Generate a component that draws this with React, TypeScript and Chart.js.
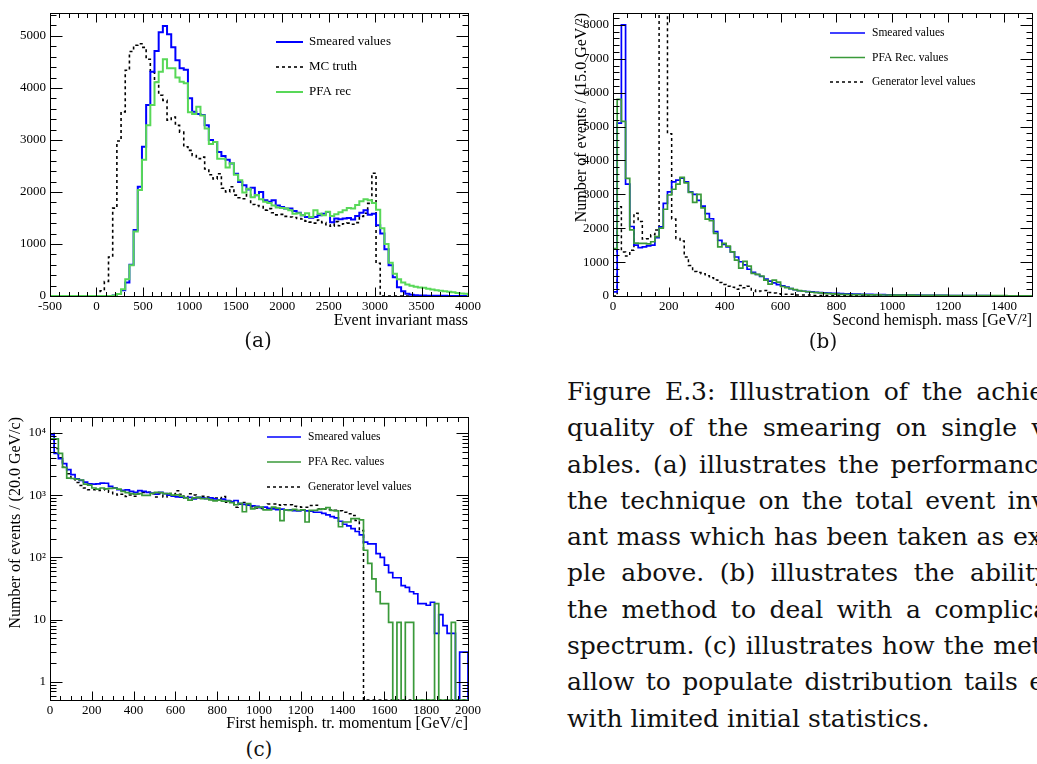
import React, { useEffect, useRef } from "react";
import { Chart, registerables } from "chart.js";

Chart.register(...registerables);

const ROOT_FONT = '"Liberation Serif", "Times New Roman", serif';
const TEX_FONT = '"DejaVu Serif", serif';

// ---------------- Panel (a): Event invariant mass (45-unit bins from -500) ----------------
const A_X_START = -500;
const A_BIN_WIDTH = 45;
const A_SMEARED = [
  0, 0, 0, 0, 0, 0, 0, 0, 0, 0,
  0, 0, 0, 0, 0, 10, 40, 110, 260, 600,
  1270, 2100, 2870, 3670, 4310, 4710, 5070, 5190, 5030, 4780,
  4530, 4380, 4350, 3800, 3540, 3500, 3480, 3280, 3000, 2960,
  2770, 2690, 2620, 2545, 2350, 2190, 2130, 2045, 2080, 1935,
  2000, 1840, 1810, 1840, 1740, 1710, 1680, 1680, 1635, 1600,
  1550, 1520, 1505, 1520, 1550, 1580, 1615, 1420, 1490, 1475,
  1490, 1500, 1470, 1540, 1600, 1650, 1560, 1580, 1360, 1200,
  900, 590, 360, 170, 90, 45, 25, 15, 10, 8,
  6, 5, 4, 3, 3, 2, 2, 1, 1, 1,
];
const A_MC_TRUTH = [
  0, 0, 0, 0, 0, 0, 0, 0, 0, 0,
  0, 0, 100, 280, 750, 1690, 2980, 3540, 4340, 4700,
  4820, 4850, 4780, 4550, 4300, 4110, 3860, 3760, 3380, 3440,
  3280, 3150, 2870, 2800, 2700, 2640, 2670, 2440, 2330, 2250,
  2350, 2070, 2000, 2100, 1940, 1890, 1870, 1950, 1760, 1740,
  1720, 1650, 1680, 1600, 1560, 1570, 1530, 1520, 1510, 1490,
  1480, 1440, 1420, 1400, 1460, 1410, 1370, 1340, 1430, 1350,
  1390, 1400, 1380, 1410, 1530, 1590, 1780, 2360, 630, 0,
  0, 0, 0, 0, 0, 0, 0, 0, 0, 0,
  0, 0, 0, 0, 0, 0, 0, 0, 0, 0,
];
const A_PFA_REC = [
  0, 0, 0, 0, 0, 0, 0, 0, 0, 0,
  0, 0, 0, 0, 0, 10, 40, 130, 320, 590,
  1240, 2040, 2620, 3280, 3670, 4110, 4310, 4550, 4380, 4380,
  4200, 4120, 4090, 3530, 3500, 3640, 3470, 3220, 2920, 2960,
  2640, 2640, 2470, 2550, 2330, 2225, 1990, 2060, 1900, 1940,
  1860, 1810, 1790, 1740, 1700, 1690, 1680, 1650, 1580, 1590,
  1550, 1590, 1520, 1650, 1580, 1550, 1620, 1540, 1570, 1610,
  1650, 1690, 1680, 1750, 1820, 1860, 1840, 1790, 1660, 1300,
  1000, 640, 430, 320, 260, 220, 195, 180, 165, 160,
  140, 125, 110, 100, 90, 80, 70, 60, 50, 45,
];
const A_X_TICKS = [-500, 0, 500, 1000, 1500, 2000, 2500, 3000, 3500, 4000];
const A_Y_TICKS = [0, 1000, 2000, 3000, 4000, 5000];

// ---------------- Panel (b): Second hemisphere mass (15 GeV bins) ----------------
const B_X_START = 0;
const B_BIN_WIDTH = 15;
const B_SMEARED = [
  120, 5100, 8000, 3300, 2050, 1500, 1430, 1450, 1480, 1500,
  1720, 2040, 2730, 3070, 3370, 3420, 3480, 3370, 3070, 3000,
  2820, 2650, 2430, 2280, 1900, 1640, 1520, 1450, 1300, 1150,
  1010, 920, 790, 700, 635, 575, 500, 440, 390, 335,
  300, 265, 220, 185, 155, 140, 130, 120, 110, 100,
  90, 85, 80, 75, 70, 65, 60, 58, 55, 50,
  48, 45, 42, 40, 38, 35, 32, 30, 30, 28,
  26, 25, 24, 22, 21, 20, 19, 18, 17, 16,
  15, 14, 13, 12, 12, 11, 10, 10, 9, 9,
  8, 8, 7, 7, 6, 6, 5, 5, 5, 4,
];
const B_PFA_REC = [
  1400, 5800, 5150, 3470, 1950, 1560, 1550, 1550, 1540, 1600,
  1750, 2000, 2560, 2980, 3150, 3300, 3500, 3340, 3060, 2760,
  3000, 2600, 2270, 2220, 1850, 1450, 1550, 1470, 1300, 1060,
  820, 1020, 880, 670, 640, 590, 470, 350, 470, 410,
  280, 250, 215, 190, 160, 140, 125, 110, 100, 90,
  80, 70, 65, 55, 50, 45, 42, 40, 40, 38,
  36, 35, 34, 32, 30, 30, 28, 27, 26, 25,
  24, 23, 22, 21, 20, 20, 19, 18, 17, 16,
  15, 15, 14, 13, 13, 12, 12, 11, 11, 10,
  10, 10, 9, 9, 8, 8, 8, 7, 7, 6,
];
const B_GENERATOR = [
  0, 2630, 1300, 1180, 1350, 2440, 2200, 1680, 1690, 1810,
  1950, 12000, 12000, 4790, 2270, 1700, 1620, 1150, 900, 720,
  690, 660, 600, 540, 470, 400, 340, 290, 260, 200,
  310, 240, 290, 180, 130, 150, 160, 100, 85, 70,
  50, 50, 50, 30, 30, 30, 30, 15, 15, 15,
  15, 12, 10, 10, 8, 8, 6, 5, 5, 4,
  4, 3, 3, 2, 2, 2, 0, 0, 0, 0,
  0, 0, 0, 0, 0, 0, 0, 0, 0, 0,
  0, 0, 0, 0, 0, 0, 0, 0, 0, 0,
  0, 0, 0, 0, 0, 0, 0, 0, 0, 0,
];
const B_X_TICKS = [0, 200, 400, 600, 800, 1000, 1200, 1400];
const B_Y_TICKS = [0, 1000, 2000, 3000, 4000, 5000, 6000, 7000, 8000];

// ---------------- Panel (c): First hemisphere transverse momentum (20 GeV bins, log y) ----------------
const C_X_START = 0;
const C_BIN_WIDTH = 20;
const C_SMEARED = [
  9400, 4700, 3850, 3200, 2560, 2130, 1820, 1720, 1620, 1520,
  1500, 1520, 1560, 1550, 1380, 1310, 1220, 1190, 1210, 1150,
  1110, 1180, 1150, 1110, 1080, 1040, 1110, 1060, 1000, 960,
  940, 930, 910, 920, 870, 920, 900, 880, 900, 870,
  830, 860, 820, 780, 820, 730, 710, 690, 670, 660,
  630, 640, 610, 600, 585, 595, 580, 580, 565, 560,
  575, 560, 550, 530, 530, 510, 480, 450, 430, 380,
  340, 320, 290, 260, 230, 175, 165, 165, 115, 100,
  75, 57, 47, 47, 35, 33, 28, 26, 18, 18,
  17, 19, 6, 12, 8, 6, 6, 0, 3, 3,
];
const C_PFA_REC = [
  8000, 8000, 4700, 2800, 1870, 1850, 1800, 1750, 1500, 1450,
  1300, 1250, 1300, 1260, 1280, 1300, 1250, 1150, 1100, 1060,
  1040, 1060, 990, 990, 1070, 1110, 1100, 1060, 1060, 1000,
  1010, 960, 900, 830, 900, 920, 880, 880, 840, 810,
  830, 800, 800, 760, 700, 740, 540, 730, 600, 640,
  640, 580, 580, 640, 620, 390, 580, 570, 590, 570,
  580, 370, 570, 570, 590, 600, 630, 570, 560, 310,
  370, 370, 420, 420, 400, 130, 80, 45, 28, 18,
  18, 9, 0, 9, 0, 9, 9, 0, 0, 0,
  0, 0, 18, 0, 0, 0, 9, 0, 0, 0,
];
const C_GENERATOR = [
  9800, 5600, 4000, 2800, 2200, 1800, 1600, 1430, 1300, 1220,
  1220, 1190, 1210, 1250, 1110, 1050, 1000, 1030, 950, 1000,
  960, 1050, 1100, 1110, 1050, 930, 1050, 930, 1060, 1030,
  1180, 1030, 900, 1050, 1000, 910, 960, 930, 850, 900,
  880, 950, 770, 800, 640, 720, 760, 700, 650, 620,
  610, 600, 720, 720, 700, 690, 700, 700, 660, 650,
  640, 640, 680, 690, 600, 600, 580, 580, 570, 560,
  530, 500, 470, 390, 270, 0, 0, 0, 0, 0,
  0, 0, 0, 0, 0, 0, 0, 0, 0, 0,
  0, 0, 0, 0, 0, 0, 0, 0, 0, 0,
];
const C_X_TICKS = [0, 200, 400, 600, 800, 1000, 1200, 1400, 1600, 1800, 2000];
const C_Y_TICKS = [1, 10, 100, 1000, 10000];
const C_Y_TICK_LABELS = ["1", "10", "10\u00B2", "10\u00B3", "10\u2074"];

// ---------------- Caption text ----------------
const CAPTION_LINES = [
  "Figure E.3: Illustration of the achieved",
  "quality of the smearing on single vari-",
  "ables. (a) illustrates the performance of",
  "the technique on the total event invari-",
  "ant mass which has been taken as exam-",
  "ple above. (b) illustrates the ability of",
  "the method to deal with a complicated",
  "spectrum. (c) illustrates how the method",
  "allow to populate distribution tails even",
  "with limited initial statistics.",
];

const BLUE = "#0000ff";
const GREEN_A = "#58d858";
const GREEN_BC = "#3a9a3a";

type Series = { label: string; values: number[]; color: string; width: number; dash: number[]; order: number };
type PanelSpec = {
  left: number; top: number; w: number; h: number;
  padding: { left: number; top: number; right: number; bottom: number };
  yAxisW: number; xAxisH: number;
  xStart: number; binWidth: number;
  xMin: number; xMax: number; yMin: number; yMax: number; logY: boolean;
  xTicks: number[]; yTicks: number[]; yTickLabels?: string[];
  xMajor: number; xMinor: number; yMajor: number; yMinor: number;
  series: Series[]; legendOrder: number[];
  legend: { x: number; y: number; lineLen: number; gap: number; rowH: number; size: number };
  xTitle: string; xTitleDy: number;
  yTitle?: string; yTitleX?: number;
};

const PANEL_A: PanelSpec = {
  left: 0, top: 0, w: 490, h: 335,
  padding: { left: 0, top: 13, right: 22, bottom: 0 },
  yAxisW: 50, xAxisH: 39,
  xStart: A_X_START, binWidth: A_BIN_WIDTH,
  xMin: -500, xMax: 4000, yMin: 0, yMax: 5440, logY: false,
  xTicks: A_X_TICKS, yTicks: A_Y_TICKS,
  xMajor: 500, xMinor: 100, yMajor: 1000, yMinor: 200,
  series: [
    { label: "Smeared values", values: A_SMEARED, color: BLUE, width: 2, dash: [], order: 2 },
    { label: "MC truth", values: A_MC_TRUTH, color: "#000000", width: 1.6, dash: [3, 3], order: 3 },
    { label: "PFA rec", values: A_PFA_REC, color: GREEN_A, width: 2, dash: [], order: 1 },
  ],
  legendOrder: [0, 1, 2],
  legend: { x: 226, y: 29, lineLen: 27, gap: 6, rowH: 25, size: 13 },
  xTitle: "Event invariant mass", xTitleDy: 29,
};

const PANEL_B: PanelSpec = {
  left: 540, top: 0, w: 497, h: 335,
  padding: { left: 0, top: 13, right: 5, bottom: 0 },
  yAxisW: 73, xAxisH: 39,
  xStart: B_X_START, binWidth: B_BIN_WIDTH,
  xMin: 0, xMax: 1500, yMin: 0, yMax: 8350, logY: false,
  xTicks: B_X_TICKS, yTicks: B_Y_TICKS,
  xMajor: 200, xMinor: 50, yMajor: 1000, yMinor: 200,
  series: [
    { label: "Smeared values", values: B_SMEARED, color: BLUE, width: 1.7, dash: [], order: 2 },
    { label: "PFA Rec. values", values: B_PFA_REC, color: GREEN_BC, width: 1.7, dash: [], order: 1 },
    { label: "Generator level values", values: B_GENERATOR, color: "#000000", width: 1.5, dash: [3, 3], order: 3 },
  ],
  legendOrder: [0, 1, 2],
  legend: { x: 217, y: 20, lineLen: 35, gap: 7, rowH: 24.5, size: 11.5 },
  xTitle: "Second hemisph. mass [GeV/\u00B2]", xTitleDy: 29,
  yTitle: "Number of events / (15.0 GeV/\u00B2)", yTitleX: 42,
};

const PANEL_C: PanelSpec = {
  left: 0, top: 380, w: 490, h: 355,
  padding: { left: 0, top: 37, right: 22, bottom: 0 },
  yAxisW: 50, xAxisH: 35,
  xStart: C_X_START, binWidth: C_BIN_WIDTH,
  xMin: 0, xMax: 2000, yMin: 0.51, yMax: 18000, logY: true,
  xTicks: C_X_TICKS, yTicks: C_Y_TICKS, yTickLabels: C_Y_TICK_LABELS,
  xMajor: 200, xMinor: 50, yMajor: 10, yMinor: 1,
  series: [
    { label: "Smeared values", values: C_SMEARED, color: BLUE, width: 1.7, dash: [], order: 2 },
    { label: "PFA Rec. values", values: C_PFA_REC, color: GREEN_BC, width: 1.7, dash: [], order: 1 },
    { label: "Generator level values", values: C_GENERATOR, color: "#000000", width: 1.5, dash: [3, 3], order: 3 },
  ],
  legendOrder: [0, 1, 2],
  legend: { x: 217, y: 20, lineLen: 34, gap: 7, rowH: 25, size: 11.5 },
  xTitle: "First hemisph. tr. momentum [GeV/c]", xTitleDy: 28,
  yTitle: "Number of events / (20.0 GeV/c)", yTitleX: 15.5,
};

// Histogram outline: points at the bin edges, stepped, closed down to the axis floor.
// On the log axis an empty bin sits on the axis floor (its minimum), as ROOT draws it.
function histPoints(xStart: number, bin: number, vals: number[], floor: number) {
  const f = (v: number) => (v <= 0 ? floor : v);
  const pts = [{ x: xStart, y: floor }];
  vals.forEach((v, i) => pts.push({ x: xStart + i * bin, y: f(v) }));
  const end = xStart + vals.length * bin;
  pts.push({ x: end, y: f(vals[vals.length - 1]) });
  pts.push({ x: end, y: floor });
  return pts;
}

const rootStylePlugin = {
  id: "rootStyle",
  afterDraw(chart: any, _args: any, opts: any) {
    const s: PanelSpec = opts.spec;
    if (!s) return;
    const { ctx, chartArea: a, scales } = chart;
    const xs = scales.x;
    const ys = scales.y;
    ctx.save();
    ctx.strokeStyle = "#000";
    ctx.lineWidth = 1;
    ctx.setLineDash([]);
    const L = Math.round(a.left) + 0.5, T = Math.round(a.top) + 0.5;
    const R = Math.round(a.right) + 0.5, B = Math.round(a.bottom) + 0.5;
    ctx.strokeRect(L, T, R - L, B - T);
    ctx.beginPath();
    const nx = Math.round((s.xMax - s.xMin) / s.xMinor);
    for (let k = 0; k <= nx; k++) {
      const v = s.xMin + k * s.xMinor;
      const r = (v - s.xMin) / s.xMajor;
      const major = Math.abs(r - Math.round(r)) < 1e-6;
      const len = major ? 9 : 4.5;
      const px = Math.round(xs.getPixelForValue(v)) + 0.5;
      ctx.moveTo(px, B); ctx.lineTo(px, B - len);
      ctx.moveTo(px, T); ctx.lineTo(px, T + len);
    }
    const yv: { v: number; major: boolean }[] = [];
    if (s.logY) {
      for (let e = Math.floor(Math.log10(s.yMin)); e <= Math.ceil(Math.log10(s.yMax)); e++) {
        for (let m = 1; m <= 9; m++) {
          const v = m * Math.pow(10, e);
          if (v >= s.yMin && v <= s.yMax) yv.push({ v, major: m === 1 });
        }
      }
    } else {
      const ny = Math.floor((s.yMax - s.yMin) / s.yMinor + 1e-9);
      for (let k = 0; k <= ny; k++) {
        const v = s.yMin + k * s.yMinor;
        const r = v / s.yMajor;
        yv.push({ v, major: Math.abs(r - Math.round(r)) < 1e-6 });
      }
    }
    for (const t of yv) {
      const len = t.major ? 12 : 6;
      const py = Math.round(ys.getPixelForValue(t.v)) + 0.5;
      ctx.moveTo(L, py); ctx.lineTo(L + len, py);
      ctx.moveTo(R, py); ctx.lineTo(R - len, py);
    }
    ctx.stroke();

    const lg = s.legend;
    ctx.font = `${lg.size}px ${ROOT_FONT}`;
    ctx.textBaseline = "middle";
    ctx.textAlign = "left";
    ctx.fillStyle = "#000";
    s.legendOrder.forEach((di, j) => {
      const ds = chart.data.datasets[di];
      const y = a.top + lg.y + j * lg.rowH;
      ctx.beginPath();
      ctx.strokeStyle = ds.borderColor;
      ctx.lineWidth = ds.borderWidth;
      ctx.setLineDash(ds.borderDash || []);
      ctx.moveTo(a.left + lg.x, y);
      ctx.lineTo(a.left + lg.x + lg.lineLen, y);
      ctx.stroke();
      ctx.setLineDash([]);
      ctx.fillText(ds.label, a.left + lg.x + lg.lineLen + lg.gap, y);
    });

    ctx.font = `16px ${ROOT_FONT}`;
    ctx.fillStyle = "#000";
    ctx.textAlign = "right";
    ctx.textBaseline = "alphabetic";
    ctx.fillText(s.xTitle, a.right, a.bottom + s.xTitleDy);
    if (s.yTitle) {
      ctx.save();
      ctx.translate(s.yTitleX, a.top);
      ctx.rotate(-Math.PI / 2);
      ctx.textAlign = "right";
      ctx.textBaseline = "middle";
      ctx.fillText(s.yTitle, 0, 0);
      ctx.restore();
    }
    ctx.restore();
  },
};

function buildConfig(s: PanelSpec): any {
  const fixAxis = (size: number, horizontal: boolean) => (sc: any) => {
    if (horizontal) sc.height = size; else sc.width = size;
    sc.paddingLeft = 0; sc.paddingRight = 0; sc.paddingTop = 0; sc.paddingBottom = 0;
  };
  const floor = s.logY ? s.yMin : 0;
  return {
    type: "line",
    data: {
      datasets: s.series.map((ser) => ({
        label: ser.label,
        data: histPoints(s.xStart, s.binWidth, ser.values, floor),
        borderColor: ser.color,
        borderWidth: ser.width,
        borderDash: ser.dash,
        stepped: true,
        pointRadius: 0,
        pointHoverRadius: 0,
        fill: false,
        order: ser.order,
      })),
    },
    options: {
      animation: false,
      responsive: false,
      maintainAspectRatio: false,
      devicePixelRatio: 1,
      events: [],
      layout: { padding: s.padding },
      plugins: {
        legend: { display: false },
        tooltip: { enabled: false },
        rootStyle: { spec: s },
      },
      scales: {
        x: {
          type: "linear",
          position: "bottom",
          min: s.xMin,
          max: s.xMax,
          grid: { display: false, drawTicks: false },
          border: { display: false },
          ticks: {
            font: { family: ROOT_FONT, size: 13 },
            color: "#000",
            padding: 3,
            maxRotation: 0,
            autoSkip: false,
            callback: (v: any) => String(v),
          },
          afterBuildTicks: (sc: any) => { sc.ticks = s.xTicks.map((v) => ({ value: v })); },
          afterFit: fixAxis(s.xAxisH, true),
        },
        y: {
          type: s.logY ? "logarithmic" : "linear",
          position: "left",
          min: s.yMin,
          max: s.yMax,
          grid: { display: false, drawTicks: false },
          border: { display: false },
          ticks: {
            font: { family: ROOT_FONT, size: 13 },
            color: "#000",
            padding: 4,
            autoSkip: false,
            callback: (v: any) => {
              if (s.yTickLabels) {
                const i = s.yTicks.indexOf(Number(v));
                return i >= 0 ? s.yTickLabels[i] : "";
              }
              return String(v);
            },
          },
          afterBuildTicks: (sc: any) => { sc.ticks = s.yTicks.map((v) => ({ value: v })); },
          afterFit: fixAxis(s.yAxisW, false),
        },
      },
    },
    plugins: [rootStylePlugin],
  };
}

function HistPanel({ spec }: { spec: PanelSpec }) {
  const ref = useRef<HTMLCanvasElement>(null);
  useEffect(() => {
    const chart = new Chart(ref.current as HTMLCanvasElement, buildConfig(spec));
    return () => chart.destroy();
  }, [spec]);
  return (
    <canvas
      ref={ref}
      width={spec.w}
      height={spec.h}
      style={{ position: "absolute", left: spec.left, top: spec.top, width: spec.w, height: spec.h }}
    />
  );
}

function SubCaption({ text, cx, cy }: { text: string; cx: number; cy: number }) {
  return (
    <div
      style={{
        position: "absolute",
        left: cx - 50,
        top: cy - 10.7,
        width: 100,
        textAlign: "center",
        font: `20px ${TEX_FONT}`,
        lineHeight: "20px",
        color: "#111",
      }}
    >
      {text}
    </div>
  );
}

export default function App() {
  const last = CAPTION_LINES.length - 1;
  return (
    <div
      style={{
        position: "fixed",
        left: 0,
        top: 0,
        width: 1037,
        height: 764,
        overflow: "hidden",
        background: "#fff",
      }}
    >
      <HistPanel spec={PANEL_A} />
      <HistPanel spec={PANEL_B} />
      <HistPanel spec={PANEL_C} />
      <SubCaption text="(a)" cx={258} cy={341} />
      <SubCaption text="(b)" cx={823} cy={342} />
      <SubCaption text="(c)" cx={259} cy={750} />
      <div
        style={{
          position: "absolute",
          left: 567,
          top: 374,
          width: 522,
          font: `25px ${TEX_FONT}`,
          lineHeight: "36.3px",
          color: "#111",
        }}
      >
        {CAPTION_LINES.map((line, i) => (
          <div
            key={i}
            style={{
              whiteSpace: "nowrap",
              textAlign: i < last ? "justify" : "left",
              textAlignLast: i < last ? "justify" : "left",
            } as any}
          >
            {line}
          </div>
        ))}
      </div>
    </div>
  );
}
